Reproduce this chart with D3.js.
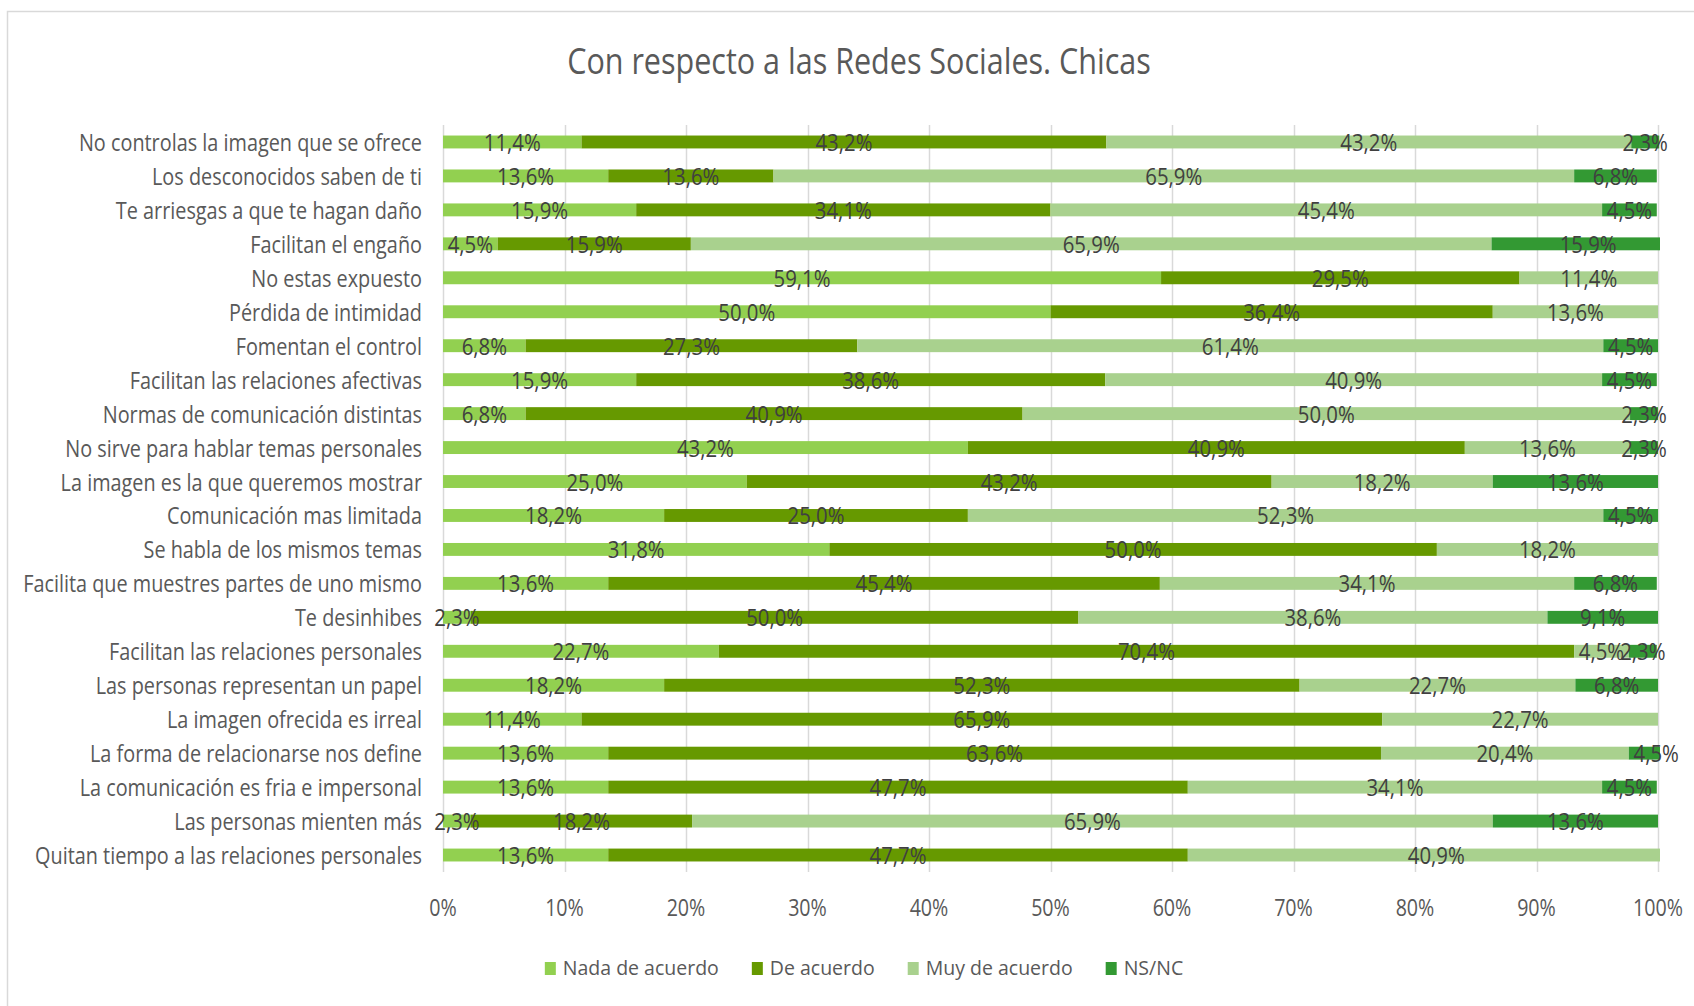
<!DOCTYPE html>
<html lang="es">
<head>
<meta charset="utf-8">
<title>Con respecto a las Redes Sociales. Chicas</title>
<script src="https://cdn.jsdelivr.net/npm/d3@7"></script>
<style>
  html, body { margin: 0; padding: 0; background: #ffffff; }
  svg { display: block; font-family: "Open Sans", "Noto Sans", sans-serif; }
</style>
</head>
<body>
<svg id="chart" width="1694" height="1006"></svg>
<script>
// Survey items, top to bottom
const categories = [
  "No controlas la imagen que se ofrece",
  "Los desconocidos saben de ti",
  "Te arriesgas a que te hagan daño",
  "Facilitan el engaño",
  "No estas expuesto",
  "Pérdida de intimidad",
  "Fomentan el control",
  "Facilitan las relaciones afectivas",
  "Normas de comunicación distintas",
  "No sirve para hablar temas personales",
  "La imagen es la que queremos mostrar",
  "Comunicación mas limitada",
  "Se habla de los mismos temas",
  "Facilita que muestres partes de uno mismo",
  "Te desinhibes",
  "Facilitan las relaciones personales",
  "Las personas representan un papel",
  "La imagen ofrecida es irreal",
  "La forma de relacionarse nos define",
  "La comunicación es fria e impersonal",
  "Las personas mienten más",
  "Quitan tiempo a las relaciones personales"
];

// Answer shares (%) per item
const nadaDeAcuerdo = [11.4, 13.6, 15.9, 4.5, 59.1, 50.0, 6.8, 15.9, 6.8, 43.2, 25.0, 18.2, 31.8, 13.6, 2.3, 22.7, 18.2, 11.4, 13.6, 13.6, 2.3, 13.6];
const deAcuerdo     = [43.2, 13.6, 34.1, 15.9, 29.5, 36.4, 27.3, 38.6, 40.9, 40.9, 43.2, 25.0, 50.0, 45.4, 50.0, 70.4, 52.3, 65.9, 63.6, 47.7, 18.2, 47.7];
const muyDeAcuerdo  = [43.2, 65.9, 45.4, 65.9, 11.4, 13.6, 61.4, 40.9, 50.0, 13.6, 18.2, 52.3, 18.2, 34.1, 38.6, 4.5, 22.7, 22.7, 20.4, 34.1, 65.9, 40.9];
const nsnc          = [2.3, 6.8, 4.5, 15.9, 0, 0, 4.5, 4.5, 2.3, 2.3, 13.6, 4.5, 0, 6.8, 9.1, 2.3, 6.8, 0, 4.5, 4.5, 13.6, 0];

const seriesNames = ["Nada de acuerdo", "De acuerdo", "Muy de acuerdo", "NS/NC"];
const seriesColors = ["#92d050", "#669900", "#a9d18e", "#339933"];
const xTicks = [0, 10, 20, 30, 40, 50, 60, 70, 80, 90, 100];
const title = "Con respecto a las Redes Sociales. Chicas";

// Build rows for the stack layout
const keys = ["nada", "de", "muy", "ns"];
const rows = categories.map((c, i) => ({
  cat: c, nada: nadaDeAcuerdo[i], de: deAcuerdo[i], muy: muyDeAcuerdo[i], ns: nsnc[i]
}));

const svg = d3.select("#chart");
const plot = { left: 443, right: 1658, top: 125, bottom: 872 };

const x = d3.scaleLinear().domain([0, 100]).range([plot.left, plot.right]);
const y = d3.scaleBand().domain(categories).range([plot.top, plot.bottom])
  .paddingInner(0.62).paddingOuter(0.31);
const color = d3.scaleOrdinal().domain(keys).range(seriesColors);

// Text is drawn with a horizontal squeeze so the humanist sans reads narrow
function squeeze(sample, size, target) {
  const t = svg.append("text").attr("font-size", size).text(sample);
  const w = t.node().getComputedTextLength();
  t.remove();
  return target / w;
}
function label(g, str, px, py, opt) {
  return g.append("text")
    .attr("transform", `translate(${px},${py}) scale(${opt.sx},1)`)
    .attr("text-anchor", opt.anchor || "middle")
    .attr("font-size", opt.size)
    .attr("fill", opt.fill)
    .text(str);
}

const catSize = 24, valSize = 24, tickSize = 23, legSize = 20, titleSize = 36;
const catSx = squeeze("Quitan tiempo a las relaciones personales", catSize, 387);
const valSx = squeeze("11,4%", valSize, 57);
const tickSx = squeeze("100%", tickSize, 50);
const legSx = squeeze("Nada de acuerdo", legSize, 156);
const titleSx = squeeze(title, titleSize, 584);

// Chart frame
svg.append("rect")
  .attr("x", 7.5).attr("y", 11.5).attr("width", 1720).attr("height", 1020)
  .attr("fill", "#ffffff").attr("stroke", "#d9d9d9").attr("stroke-width", 1.5);

// Title
label(svg, title, 859, 74, { sx: titleSx, size: titleSize, fill: "#595959" });

// Vertical gridlines
svg.append("g").selectAll("line").data(xTicks).join("line")
  .attr("x1", d => Math.round(x(d)) + 0.5).attr("x2", d => Math.round(x(d)) + 0.5)
  .attr("y1", plot.top).attr("y2", plot.bottom)
  .attr("stroke", "#d9d9d9").attr("stroke-width", 1.5);

// X axis labels
const tickG = svg.append("g");
xTicks.forEach(t => label(tickG, t + "%", x(t), 916, { sx: tickSx, size: tickSize, fill: "#595959" }));

// Category labels
const catG = svg.append("g");
categories.forEach(c => label(catG, c, plot.left - 21, y(c) + y.bandwidth() / 2 + 9,
  { sx: catSx, size: catSize, fill: "#595959", anchor: "end" }));

// Stacked bars, clipped at the 100% edge
svg.append("clipPath").attr("id", "plotClip")
  .append("rect").attr("x", plot.left).attr("y", plot.top - 5)
  .attr("width", plot.right - plot.left + 2).attr("height", plot.bottom - plot.top + 10);

const stacked = d3.stack().keys(keys)(rows);

svg.append("g").attr("clip-path", "url(#plotClip)")
  .selectAll("g").data(stacked).join("g")
  .attr("fill", d => color(d.key))
  .selectAll("rect").data(d => d).join("rect")
  .attr("x", d => x(d[0]))
  .attr("y", d => y(d.data.cat))
  .attr("width", d => Math.max(0, x(d[1]) - x(d[0])))
  .attr("height", y.bandwidth());

// Value labels, centred on each segment
const fmt = v => d3.format(".1f")(v).replace(".", ",") + "%";
const valG = svg.append("g");
stacked.forEach(s => {
  s.forEach(d => {
    const v = d.data[s.key];
    if (!v) return;
    label(valG, fmt(v), (x(d[0]) + x(d[1])) / 2, y(d.data.cat) + y.bandwidth() / 2 + 9,
      { sx: valSx, size: valSize, fill: "#404040" });
  });
});

// Legend, centred under the chart
const legG = svg.append("g");
const sw = 11, gap = 7, spacing = 33;
const widths = seriesNames.map(n => {
  const t = svg.append("text").attr("font-size", legSize).text(n);
  const w = t.node().getComputedTextLength() * legSx;
  t.remove();
  return w;
});
const total = d3.sum(widths) + seriesNames.length * (sw + gap) + spacing * (seriesNames.length - 1);
let lx = 864 - total / 2;
seriesNames.forEach((n, i) => {
  legG.append("rect").attr("x", lx).attr("y", 962).attr("width", sw).attr("height", 13)
    .attr("fill", seriesColors[i]);
  label(legG, n, lx + sw + gap, 975, { sx: legSx, size: legSize, fill: "#595959", anchor: "start" });
  lx += sw + gap + widths[i] + spacing;
});
</script>
</body>
</html>
